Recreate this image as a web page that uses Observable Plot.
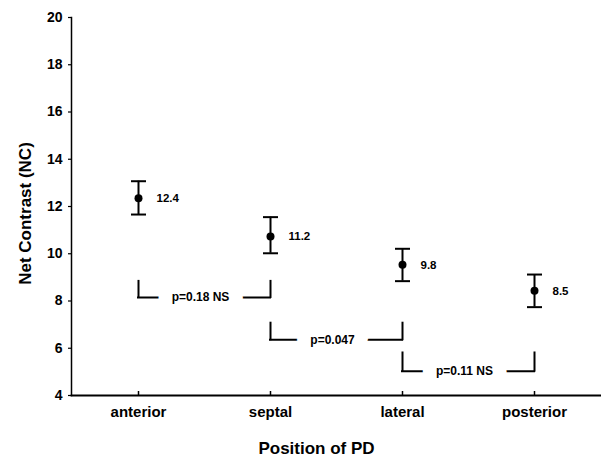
<!DOCTYPE html>
<html>
<head>
<meta charset="utf-8">
<script src="https://cdn.jsdelivr.net/npm/d3@7"></script>
<script src="https://cdn.jsdelivr.net/npm/@observablehq/plot@0.6"></script>
<style>
  html, body { margin: 0; padding: 0; background: #fff; }
</style>
</head>
<body>
<div id="chart"></div>
<script>
// Data
const categories = ["anterior", "septal", "lateral", "posterior"];
const means = [12.35, 10.73, 9.53, 8.43];
const upper = [13.07, 11.55, 10.21, 9.12];
const lower = [11.66, 10.02, 8.84, 7.74];
const valueLabels = ["12.4", "11.2", "9.8", "8.5"];

const compFrom = ["anterior", "septal", "lateral"];
const compTo = ["septal", "lateral", "posterior"];
const compText = ["p=0.18 NS", "p=0.047", "p=0.11 NS"];
const compTop = [8.83, 7.06, 5.8];
const compBottom = [8.15, 6.36, 5.03];

const yTicks = [4, 6, 8, 10, 12, 14, 16, 18, 20];

const points = categories.map((c, i) => ({cat: c, mean: means[i], hi: upper[i], lo: lower[i], label: valueLabels[i]}));
const comps = compFrom.map((f, i) => ({from: f, to: compTo[i], text: compText[i], top: compTop[i], bottom: compBottom[i]}));

const font = "'Liberation Sans', Arial, Helvetica, sans-serif";

// horizontal-line symbol for error bar caps
const capSymbol = {
  draw(context, size) {
    const r = Math.sqrt(size / Math.PI);
    context.moveTo(-r, 0);
    context.lineTo(r, 0);
  }
};

const chart = Plot.plot({
  width: 601,
  height: 456,
  marginLeft: 71,
  marginRight: 0,
  marginTop: 17,
  marginBottom: 61,
  style: {fontFamily: font, fontWeight: "bold", color: "#000", background: "#fff"},
  x: {type: "point", domain: categories, padding: 0.5},
  y: {domain: [4, 20]},
  marks: [
    Plot.axisY({ticks: yTicks, tickSize: 3, tickPadding: 6, fontSize: 14, fontWeight: "bold", label: null, strokeWidth: 1.2}),
    Plot.axisX({tickSize: -4, tickPadding: 15, fontSize: 15, fontWeight: "bold", label: null, strokeWidth: 1.5}),
    Plot.frame({anchor: "left", strokeWidth: 1.5}),
    Plot.frame({anchor: "bottom", strokeWidth: 1.8}),
    // error bars
    Plot.ruleX(points, {x: "cat", y1: "lo", y2: "hi", strokeWidth: 2}),
    Plot.dot(points, {x: "cat", y: "hi", symbol: capSymbol, r: 7.5, stroke: "#000", fill: "none", strokeWidth: 2}),
    Plot.dot(points, {x: "cat", y: "lo", symbol: capSymbol, r: 7.5, stroke: "#000", fill: "none", strokeWidth: 2}),
    Plot.dot(points, {x: "cat", y: "mean", r: 4, fill: "#000", stroke: null}),
    Plot.text(points, {x: "cat", y: "mean", text: "label", dx: 18, textAnchor: "start", fontSize: 11.5, fontWeight: "bold"}),
    // comparison brackets
    Plot.ruleX(comps, {x: "from", y1: "top", y2: "bottom", strokeWidth: 2, strokeLinecap: "square"}),
    Plot.ruleX(comps, {x: "to", y1: "top", y2: "bottom", strokeWidth: 2, strokeLinecap: "square"}),
    Plot.ruleY(comps, {x1: "from", x2: "to", y: "bottom", strokeWidth: 2, strokeLinecap: "square"}),
    Plot.text(comps, {x: "from", y: "bottom", text: "text", dx: 62, fontSize: 12, fontWeight: "bold", fill: "#000", stroke: "#fff", strokeWidth: 28}),
    // axis titles
    Plot.text(["Net Contrast (NC)"], {frameAnchor: "left", textAnchor: "middle", dx: -46, dy: 7, rotate: -90, fontSize: 17, fontWeight: "bold"}),
    Plot.text(["Position of PD"], {frameAnchor: "bottom", textAnchor: "middle", dx: -20, dy: 58, fontSize: 17, fontWeight: "bold"})
  ]
});

document.getElementById("chart").appendChild(chart);
</script>
</body>
</html>
